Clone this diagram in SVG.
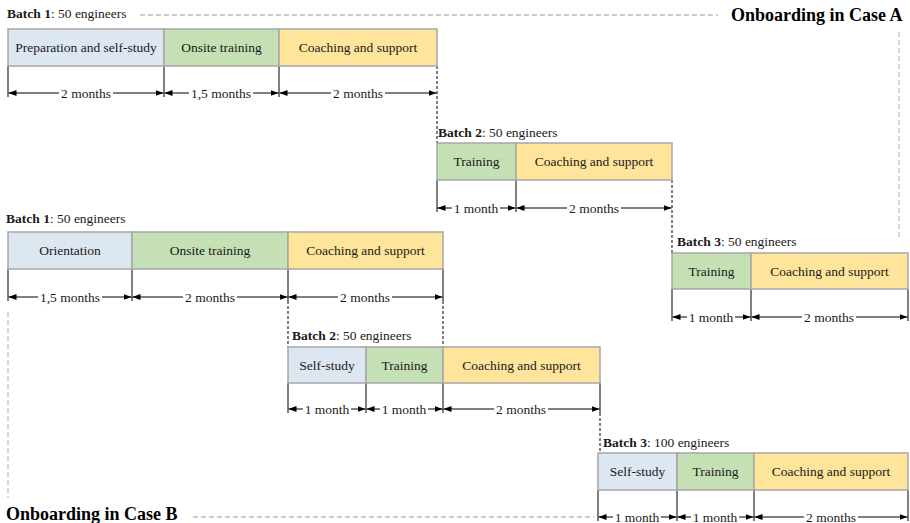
<svg xmlns="http://www.w3.org/2000/svg" width="910" height="523" viewBox="0 0 910 523">
<defs>
<marker id="ah" viewBox="0 0 8 6" refX="8" refY="3" markerWidth="8" markerHeight="6" markerUnits="userSpaceOnUse" orient="auto-start-reverse"><path d="M0,0 L8,3 L0,6 z" fill="#000"/></marker>
<style>
text{font-family:"Liberation Serif","Times New Roman",serif;font-size:13.5px;fill:#1a1a1a}
.lbl{text-anchor:middle}
.dim{text-anchor:middle}
.mask{fill:#fff}
.title{font-size:18px;font-weight:bold;fill:#000}
.b{font-weight:bold}
.box{stroke:#a6a6a6;stroke-width:1.5}
.blue{fill:#dde7f2}
.green{fill:#c5e0b4}
.yellow{fill:#fee59b}
.tick{stroke:#000;stroke-width:1;fill:none}
.arr{stroke:#000;stroke-width:1;fill:none;marker-start:url(#ah);marker-end:url(#ah)}
.conn{stroke:#000;stroke-width:1;stroke-dasharray:3,2;fill:none}
.guide{stroke:#bfbfbf;stroke-width:1.3;stroke-dasharray:5,3;fill:none}
</style>
</defs>
<rect width="910" height="523" fill="#fff"/>

<g id="guides">
<line class="guide" x1="140" y1="15" x2="718" y2="15"/>
<line class="guide" x1="899" y1="32" x2="899" y2="238"/>
<line class="guide" x1="8" y1="312" x2="8" y2="498"/>
<line class="guide" x1="193" y1="517" x2="594" y2="517"/>
</g>

<g id="titles">
<text class="title" x="731" y="21">Onboarding in Case A</text>
<text class="title" x="6" y="520">Onboarding in Case B</text>
</g>

<g id="batch-labels">
<text x="7" y="18"><tspan class="b">Batch 1</tspan>: 50 engineers</text>
<text x="438" y="137"><tspan class="b">Batch 2</tspan>: 50 engineers</text>
<text x="677" y="246"><tspan class="b">Batch 3</tspan>: 50 engineers</text>
<text x="6" y="223"><tspan class="b">Batch 1</tspan>: 50 engineers</text>
<text x="292" y="340"><tspan class="b">Batch 2</tspan>: 50 engineers</text>
<text x="603" y="447"><tspan class="b">Batch 3</tspan>: 100 engineers</text>
</g>

<g id="connectors">
<!-- Case A batch 1 -->
<path class="tick" d="M8,66V97 M164,66V97 M279,66V97"/>
<line class="conn" x1="437" y1="66" x2="437" y2="143"/>
<line class="arr" x1="8.5" y1="93" x2="163.5" y2="93"/>
<line class="arr" x1="164.5" y1="93" x2="278.5" y2="93"/>
<line class="arr" x1="279.5" y1="93" x2="436.5" y2="93"/>
<!-- Case A batch 2 -->
<path class="tick" d="M437,180V212 M516,180V212"/>
<line class="conn" x1="672" y1="180" x2="672" y2="253"/>
<line class="arr" x1="437.5" y1="208" x2="515.5" y2="208"/>
<line class="arr" x1="516.5" y1="208" x2="671.5" y2="208"/>
<!-- Case A batch 3 -->
<path class="tick" d="M672,289V321 M751,289V321 M908,289V321"/>
<line class="arr" x1="672.5" y1="317" x2="750.5" y2="317"/>
<line class="arr" x1="751.5" y1="317" x2="907.5" y2="317"/>
<!-- Case B batch 1 -->
<path class="tick" d="M8,269V301 M132,269V301 M288,269V301 M443,269V301"/>
<line class="conn" x1="288" y1="301" x2="288" y2="347"/>
<line class="conn" x1="443" y1="301" x2="443" y2="347"/>
<line class="arr" x1="8.5" y1="297" x2="131.5" y2="297"/>
<line class="arr" x1="132.5" y1="297" x2="287.5" y2="297"/>
<line class="arr" x1="288.5" y1="297" x2="442.5" y2="297"/>
<!-- Case B batch 2 -->
<path class="tick" d="M288,383V413 M366,383V413 M443,383V413 M600,383V413"/>
<line class="conn" x1="600" y1="413" x2="600" y2="453"/>
<line class="arr" x1="288.5" y1="409" x2="365.5" y2="409"/>
<line class="arr" x1="366.5" y1="409" x2="442.5" y2="409"/>
<line class="arr" x1="443.5" y1="409" x2="599.5" y2="409"/>
<!-- Case B batch 3 -->
<path class="tick" d="M598,490V521 M677,490V521 M754,490V521 M908,490V521"/>
<line class="arr" x1="598.5" y1="517" x2="676.5" y2="517"/>
<line class="arr" x1="677.5" y1="517" x2="753.5" y2="517"/>
<line class="arr" x1="754.5" y1="517" x2="907.5" y2="517"/>
</g>

<g id="dim-labels">
<rect class="mask" x="59" y="86" width="54" height="14"/><text class="dim" x="86" y="97.5">2 months</text>
<rect class="mask" x="189" y="86" width="64" height="14"/><text class="dim" x="221" y="97.5">1,5 months</text>
<rect class="mask" x="331" y="86" width="54" height="14"/><text class="dim" x="358" y="97.5">2 months</text>
<rect class="mask" x="452" y="201" width="48" height="14"/><text class="dim" x="476" y="212.5">1 month</text>
<rect class="mask" x="567" y="201" width="54" height="14"/><text class="dim" x="594" y="212.5">2 months</text>
<rect class="mask" x="687" y="310" width="48" height="14"/><text class="dim" x="711" y="321.5">1 month</text>
<rect class="mask" x="802" y="310" width="54" height="14"/><text class="dim" x="829" y="321.5">2 months</text>
<rect class="mask" x="38" y="290" width="64" height="14"/><text class="dim" x="70" y="301.5">1,5 months</text>
<rect class="mask" x="183" y="290" width="54" height="14"/><text class="dim" x="210" y="301.5">2 months</text>
<rect class="mask" x="338" y="290" width="54" height="14"/><text class="dim" x="365" y="301.5">2 months</text>
<rect class="mask" x="303" y="402" width="48" height="14"/><text class="dim" x="327" y="413.5">1 month</text>
<rect class="mask" x="380" y="402" width="48" height="14"/><text class="dim" x="404" y="413.5">1 month</text>
<rect class="mask" x="494" y="402" width="54" height="14"/><text class="dim" x="521" y="413.5">2 months</text>
<rect class="mask" x="613" y="510" width="48" height="13"/><text class="dim" x="637" y="521.5">1 month</text>
<rect class="mask" x="691" y="510" width="48" height="13"/><text class="dim" x="715" y="521.5">1 month</text>
<rect class="mask" x="804" y="510" width="54" height="13"/><text class="dim" x="831" y="521.5">2 months</text>
</g>

<g id="a1-prep"><rect class="box blue" x="8" y="29" width="156" height="37"/><text class="lbl" x="86" y="52">Preparation and self-study</text></g>
<g id="a1-onsite"><rect class="box green" x="164" y="29" width="115" height="37"/><text class="lbl" x="221.5" y="52">Onsite training</text></g>
<g id="a1-coach"><rect class="box yellow" x="279" y="29" width="158" height="37"/><text class="lbl" x="358" y="52">Coaching and support</text></g>

<g id="a2-train"><rect class="box green" x="437" y="143" width="79" height="37"/><text class="lbl" x="476.5" y="166">Training</text></g>
<g id="a2-coach"><rect class="box yellow" x="516" y="143" width="156" height="37"/><text class="lbl" x="594" y="166">Coaching and support</text></g>

<g id="a3-train"><rect class="box green" x="672" y="253" width="79" height="36"/><text class="lbl" x="711.5" y="275.5">Training</text></g>
<g id="a3-coach"><rect class="box yellow" x="751" y="253" width="157" height="36"/><text class="lbl" x="829.5" y="275.5">Coaching and support</text></g>

<g id="b1-orient"><rect class="box blue" x="8" y="232" width="124" height="37"/><text class="lbl" x="70" y="255">Orientation</text></g>
<g id="b1-onsite"><rect class="box green" x="132" y="232" width="156" height="37"/><text class="lbl" x="210" y="255">Onsite training</text></g>
<g id="b1-coach"><rect class="box yellow" x="288" y="232" width="155" height="37"/><text class="lbl" x="365.5" y="255">Coaching and support</text></g>

<g id="b2-self"><rect class="box blue" x="288" y="347" width="78" height="36"/><text class="lbl" x="327" y="369.5">Self-study</text></g>
<g id="b2-train"><rect class="box green" x="366" y="347" width="77" height="36"/><text class="lbl" x="404.5" y="369.5">Training</text></g>
<g id="b2-coach"><rect class="box yellow" x="443" y="347" width="157" height="36"/><text class="lbl" x="521.5" y="369.5">Coaching and support</text></g>

<g id="b3-self"><rect class="box blue" x="598" y="453" width="79" height="37"/><text class="lbl" x="637.5" y="476">Self-study</text></g>
<g id="b3-train"><rect class="box green" x="677" y="453" width="77" height="37"/><text class="lbl" x="715.5" y="476">Training</text></g>
<g id="b3-coach"><rect class="box yellow" x="754" y="453" width="154" height="37"/><text class="lbl" x="831" y="476">Coaching and support</text></g>
</svg>
